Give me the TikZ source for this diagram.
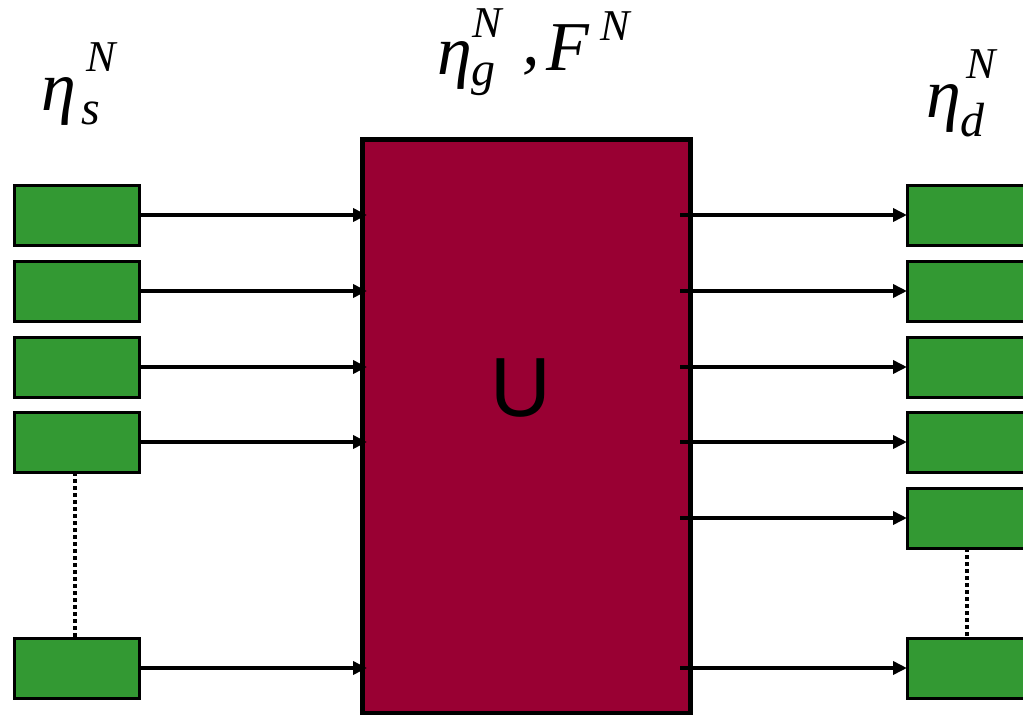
\documentclass[tikz,border=0pt]{standalone}
\usepackage{fontspec}
\setmainfont{Liberation Serif}
\newfontfamily\sansU{Liberation Sans}
\usetikzlibrary{arrows.meta}
\definecolor{boxgreen}{HTML}{339933}
\definecolor{umaroon}{HTML}{990033}
\tikzset{
  gbox/.style={draw=black, fill=boxgreen, line width=3pt, minimum width=125pt, minimum height=60pt, inner sep=0pt, outer sep=0pt, anchor=north west},
  ubox/.style={draw=black, fill=umaroon, line width=5pt, minimum width=328pt, minimum height=574pt, inner sep=0pt, outer sep=0pt, anchor=north west},
  conn/.style={line width=3.5pt, -{Triangle[length=14pt,width=13pt]}},
  dotline/.style={line width=4pt, dash pattern=on 4pt off 3pt},
  big/.style={inner sep=0pt, anchor=base, font=\fontsize{70}{74}\selectfont\itshape},
  sub/.style={inner sep=0pt, anchor=base, font=\fontsize{48}{52}\selectfont\itshape},
  sup/.style={inner sep=0pt, anchor=base, font=\fontsize{44}{48}\selectfont\itshape}
}
\begin{document}
\begin{tikzpicture}[x=1pt,y=-1pt]
\useasboundingbox (0,0) rectangle (1023,715);
\clip (0,0) rectangle (1023,715);
% big box
\node[ubox] (U) at (362,139) {};
\node[inner sep=0pt, font=\sansU\fontsize{84}{88}\selectfont] (ulab) at (521,388) {U};
% left boxes
\node[gbox] (l1) at (14,185) {};
\node[gbox] (l2) at (14,261) {};
\node[gbox] (l3) at (14,337) {};
\node[gbox] (l4) at (14,412) {};
\node[gbox] (l5) at (14,638) {};
% right boxes
\node[gbox] (r1) at (907,185) {};
\node[gbox] (r2) at (907,261) {};
\node[gbox] (r3) at (907,337) {};
\node[gbox] (r4) at (907,412) {};
\node[gbox] (r5) at (907,488) {};
\node[gbox] (r6) at (907,638) {};
% left arrows
\foreach \n in {l1,l2,l3,l4,l5}
  \draw[conn] (\n.east) -- ([xshift=5pt]U.west |- \n.east);
% right arrows
\foreach \n in {r1,r2,r3,r4,r5,r6}
  \draw[conn] ([xshift=-10pt]U.east |- \n.west) -- (\n.west);
% dotted
\draw[dotline] ([xshift=-2pt]l4.south) -- ([xshift=-2pt]l5.north);
\coordinate (rd1) at ([xshift=60pt]r5.south west);
\coordinate (rd2) at ([xshift=60pt]r6.north west);
\draw[dotline] (rd1) -- (rd2);
% labels
\node[big] (es) at (59,110) {η};
\node[sub] (es-s) at (91,124) {s};
\node[sup] (es-n) at (101,71) {N};
\node[big] (eg) at (455,74) {η};
\node[sub] (eg-g) at (483,85) {g};
\node[sup] (eg-n) at (487,37) {N};
\node[big] (comma) at (531,64) {,};
\node[big] (ff) at (568,70) {F};
\node[sup] (ff-n) at (615,40) {N};
\node[big] (ed) at (944,117) {η};
\node[sub] (ed-d) at (972,136) {d};
\node[sup] (ed-n) at (981,78) {N};
\end{tikzpicture}
\end{document}
